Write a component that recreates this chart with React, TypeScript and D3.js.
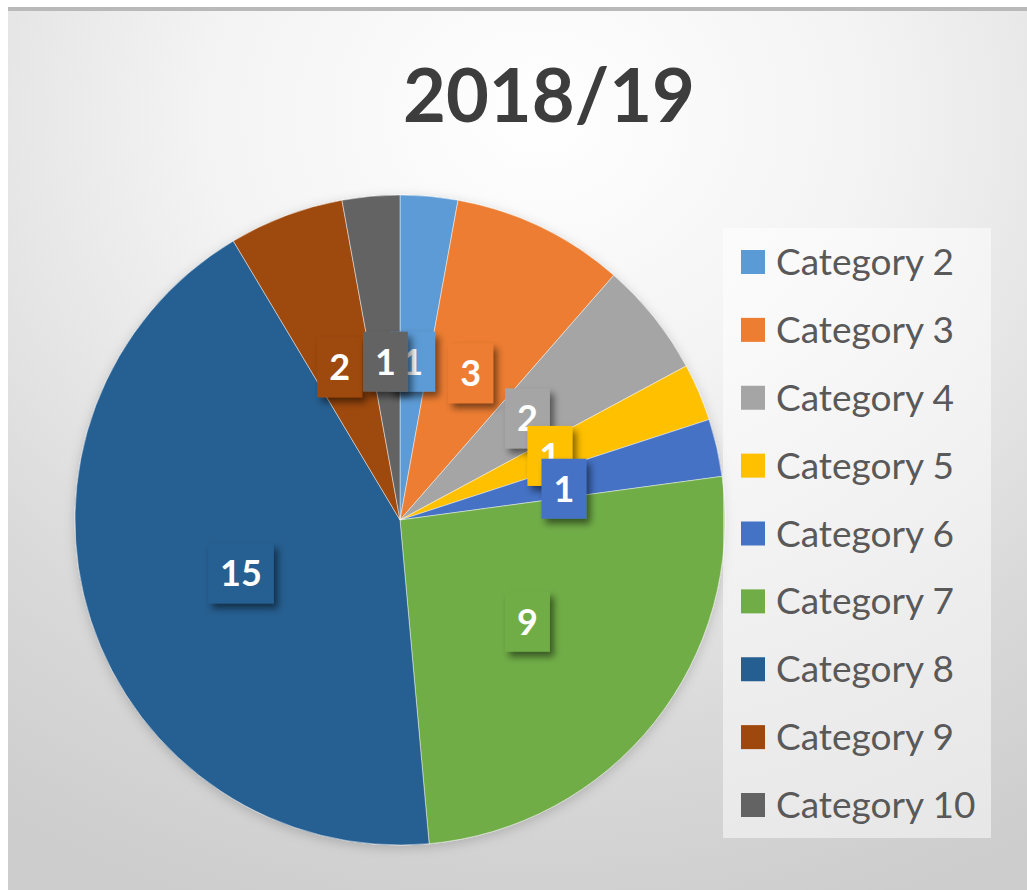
import React from "react";
import * as d3 from "d3";

const title = "2018/19";
const categories = [
  "Category 2", "Category 3", "Category 4", "Category 5", "Category 6",
  "Category 7", "Category 8", "Category 9", "Category 10",
];
const values = [1, 3, 2, 1, 1, 9, 15, 2, 1];
const colors = [
  "#5B9BD5", "#ED7D31", "#A5A5A5", "#FFC000", "#4472C4",
  "#70AD47", "#255E91", "#9E480E", "#636363",
];

const W = 1027;
const H = 890;
const cx = 400;
const cy = 520;
const R = 325;
const labelR = 163;
const labelNudge: Record<string, [number, number]> = {
  "Category 8": [-4, 3],
  "Category 9": [-3, 0],
  "Category 6": [5, 5],
  "Category 10": [0, 4],
  "Category 2": [-2, 4],
};

export default function App() {
  const pie = d3.pie<number>().sort(null).value((d) => d).startAngle(0).endAngle(2 * Math.PI);
  const arcs = pie(values);
  const arc = d3.arc<d3.PieArcDatum<number>>().innerRadius(0).outerRadius(R);

  const legendY = d3.scalePoint<string>().domain(categories).range([262, 805]);

  const labelFont = 36;
  const digitW = labelFont * 0.58;

  return (
    <svg width={W} height={H} style={{ position: "absolute", left: 0, top: 0 }}>
      <defs>
        <radialGradient id="bg" cx="52%" cy="12%" r="95%" fx="52%" fy="12%">
          <stop offset="0%" stopColor="#ffffff" />
          <stop offset="35%" stopColor="#f3f3f3" />
          <stop offset="75%" stopColor="#d9d9d9" />
          <stop offset="100%" stopColor="#cdcdcd" />
        </radialGradient>
        <filter id="lblShadow" x="-30%" y="-30%" width="170%" height="170%">
          <feDropShadow dx="4" dy="5" stdDeviation="3.5" floodColor="#000" floodOpacity="0.5" />
        </filter>
        <filter id="pieShadow" x="-10%" y="-10%" width="120%" height="120%">
          <feDropShadow dx="0" dy="3" stdDeviation="6" floodColor="#000" floodOpacity="0.18" />
        </filter>
      </defs>
      <rect x={0} y={0} width={W} height={H} fill="#ffffff" />
      <rect x={8} y={10} width={W - 8} height={H - 10} fill="url(#bg)" />
      <rect x={8} y={7} width={W - 8} height={4} fill="#b9b9b9" />

      <text
        x={549}
        y={122}
        textAnchor="middle"
        fontFamily="Lato, 'Open Sans', sans-serif"
        fontWeight="bold"
        fontSize={74}
        fill="#3d3d3d"
      >
        {title}
      </text>

      <g transform={`translate(${cx},${cy})`} filter="url(#pieShadow)">
        {arcs.map((a, i) => (
          <path key={i} d={arc(a) || ""} fill={colors[i]} stroke="#ffffff" strokeOpacity={0.45} strokeWidth={1} />
        ))}
      </g>

      <g transform={`translate(${cx},${cy})`}>
        {arcs.map((a, i) => {
          const mid = (a.startAngle + a.endAngle) / 2;
          const nudge = labelNudge[categories[i]] || [0, 0];
          const lx = labelR * Math.sin(mid) + nudge[0];
          const ly = -labelR * Math.cos(mid) + nudge[1];
          const txt = String(values[i]);
          const tw = txt.length * digitW;
          const bw = tw + 24;
          const bh = 60;
          return (
            <g key={i} transform={`translate(${lx},${ly})`}>
              <rect x={-bw / 2} y={-bh / 2} width={bw} height={bh} fill={colors[i]} filter="url(#lblShadow)" />
              <text
                x={0}
                y={labelFont * 0.36}
                textAnchor="middle"
                fontFamily="Lato, 'Open Sans', sans-serif"
                fontWeight="bold"
                fontSize={labelFont}
                fill="#ffffff"
              >
                {txt}
              </text>
            </g>
          );
        })}
      </g>

      <rect x={723} y={228} width={268} height={610} fill="#ffffff" fillOpacity={0.5} />
      {categories.map((c, i) => {
        const y = legendY(c) as number;
        return (
          <g key={c}>
            <rect x={741} y={y - 12} width={24} height={24} fill={colors[i]} />
            <text
              x={776}
              y={y + 13}
              fontFamily="Lato, 'Open Sans', sans-serif"
              fontSize={37}
              fill="#595959"
            >
              {c}
            </text>
          </g>
        );
      })}
    </svg>
  );
}
